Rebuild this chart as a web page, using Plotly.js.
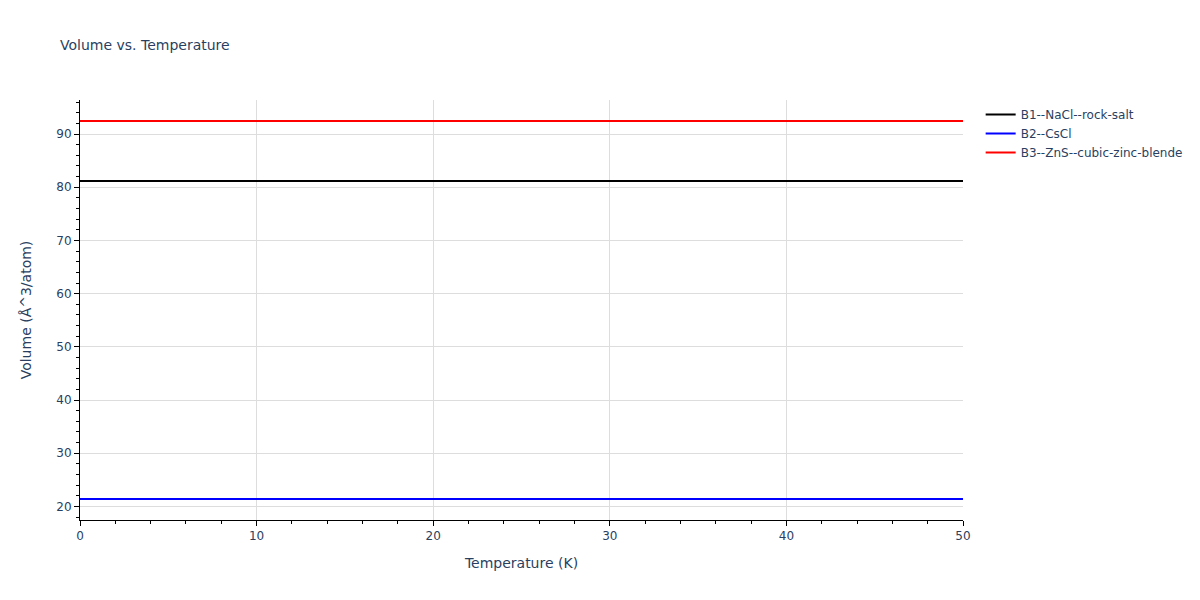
<!DOCTYPE html>
<html>
<head>
<meta charset="utf-8">
<script src="https://cdn.plot.ly/plotly-3.0.1.min.js"></script>
<style>
  html, body { margin: 0; padding: 0; background: #fff; }
  #chart { width: 1200px; height: 600px; }
</style>
</head>
<body>
<div id="chart"></div>
<script>
let temperature = [0, 10, 20, 30, 40, 50];
let vol_nacl = [81.15, 81.15, 81.15, 81.15, 81.15, 81.15];
let vol_cscl = [21.4, 21.4, 21.4, 21.4, 21.4, 21.4];
let vol_zns = [92.45, 92.45, 92.45, 92.45, 92.45, 92.45];
let names = ['B1--NaCl--rock-salt', 'B2--CsCl', 'B3--ZnS--cubic-zinc-blende'];
let line_colors = ['black', 'blue', 'red'];

let series = [vol_nacl, vol_cscl, vol_zns];
let data = series.map((v, i) => ({
  x: temperature,
  y: v,
  type: 'scatter',
  mode: 'lines',
  name: names[i],
  line: { color: line_colors[i], width: 2 },
}));

let axis = {
  showline: true,
  linecolor: 'black',
  linewidth: 1,
  ticks: 'outside',
  ticklen: 5,
  tickcolor: 'black',
  showgrid: true,
  gridcolor: '#dddddd',
  zeroline: false,
  automargin: true,
  minor: { ticks: 'outside', ticklen: 3, tickcolor: 'black', dtick: 2, showgrid: false },
};

Plotly.newPlot(
  'chart',
  data,
  {
    width: 1200,
    height: 600,
    paper_bgcolor: 'white',
    plot_bgcolor: 'white',
    margin: { l: 80, r: 80, t: 100, b: 80 },
    font: { family: '"DejaVu Sans", verdana, sans-serif', color: '#2a3f5f', size: 12 },
    title: { text: 'Volume vs. Temperature', x: 0.05, font: { size: 14 } },
    xaxis: {
      ...axis,
      title: { text: 'Temperature (K)', font: { size: 14 }, standoff: 15 },
      range: [0, 50],
      dtick: 10,
    },
    yaxis: {
      ...axis,
      title: { text: 'Volume (Å^3/atom)', font: { size: 14 }, standoff: 21 },
      dtick: 10,
    },
    legend: { font: { size: 12 } },
  },
  { staticPlot: true }
);
</script>
</body>
</html>
